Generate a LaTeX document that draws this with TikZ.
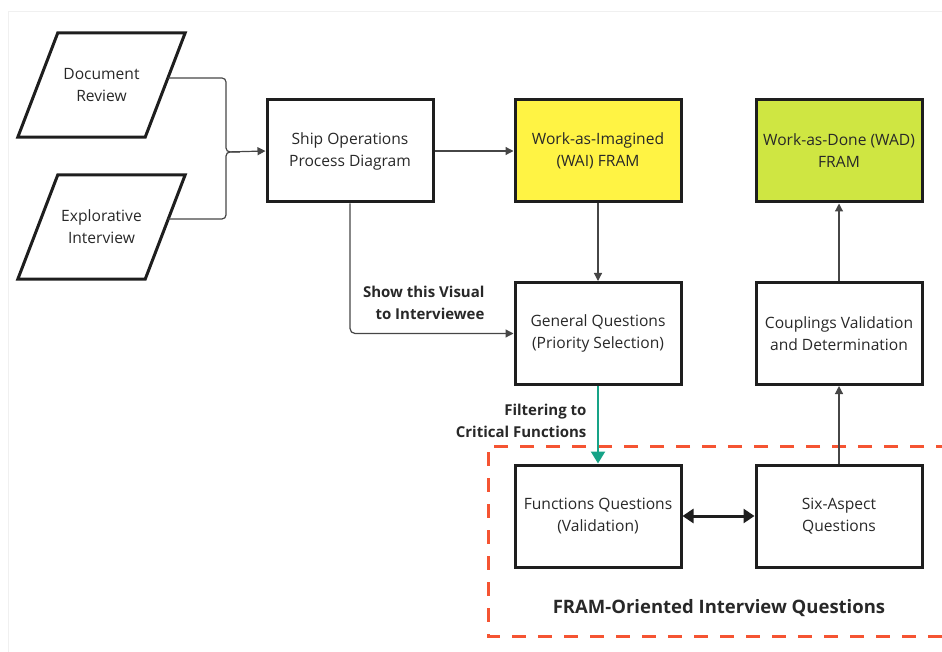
\documentclass[tikz,border=0pt]{standalone}
\usepackage{fontspec}
\setmainfont{Open Sans}
\usetikzlibrary{arrows.meta}
\definecolor{inkline}{RGB}{30,30,30}
\definecolor{inktext}{RGB}{40,40,40}
\definecolor{connline}{RGB}{70,70,70}
\definecolor{waiyellow}{RGB}{255,243,68}
\definecolor{wadlime}{RGB}{207,230,66}
\definecolor{filterteal}{RGB}{22,163,135}
\definecolor{framred}{RGB}{245,84,50}
\definecolor{framefaint}{RGB}{240,240,240}
\begin{document}
\begin{tikzpicture}[x=1pt,y=-1pt,
  every node/.style={text=inktext},
  procbox/.style={draw=inkline, line width=3pt, minimum width=166pt,
    minimum height=102pt, align=center, inner sep=0pt,
    font=\fontsize{15.6}{22}\selectfont},
  inbox/.style={minimum width=167pt, minimum height=104pt, align=center,
    inner sep=0pt, font=\fontsize{15.6}{22}\selectfont},
  pgram/.style={draw=inkline, line width=3pt, line join=miter},
  conn/.style={draw=connline, line width=1.2pt,
    -{Triangle[length=8pt,width=8pt]}},
  plainconn/.style={draw=connline, line width=1.2pt},
  lbl/.style={font=\bfseries\fontsize{15}{21.5}\selectfont, align=right},
]
\useasboundingbox (0,0) rectangle (942,652);
% faint page frame
\draw[framefaint, line width=1pt] (8,652) -- (8,12) -- (942,12);

% input sources (parallelograms)
\node[inbox] (doc) at (101.5,85) {Document\\Review};
\node[inbox] (expl) at (101.5,227) {Explorative\\Interview};
\draw[pgram] ([xshift=40pt]doc.north west) -- (doc.north east)
  -- ([xshift=-40pt]doc.south east) -- (doc.south west) -- cycle;
\draw[pgram] ([xshift=40pt]expl.north west) -- (expl.north east)
  -- ([xshift=-40pt]expl.south east) -- (expl.south west) -- cycle;

% process boxes
\node[procbox] (ship) at (350,151) {Ship Operations\\Process Diagram};
\node[procbox, fill=waiyellow] (wai) at (598,151) {Work-as-Imagined\\(WAI) FRAM};
\node[procbox, fill=wadlime] (wad) at (839,151) {Work-as-Done (WAD)\\FRAM};
\node[procbox] (gen) at (598,333.5) {General Questions\\(Priority Selection)};
\node[procbox] (coup) at (839,333.5) {Couplings Validation\\and Determination};
\node[procbox] (func) at (598,516) {Functions Questions\\(Validation)};
\node[procbox] (six) at (839,516) {Six-Aspect\\Questions};

% FRAM-oriented questions group
\draw[framred, line width=3pt, dash pattern=on 14pt off 12pt]
  (950,446) -- (488,446) -- (488,636) -- (950,636);
\node[font=\bfseries\fontsize{18.5}{22}\selectfont] (grp) at (719,608.5)
  {FRAM-Oriented Interview Questions};

% merging inputs into the process diagram
\coordinate (docout) at (168,78);
\coordinate (explout) at (168,219);
\coordinate (merge) at (226,152);
\coordinate (mergeend) at (240,152);
\draw[conn, rounded corners=4pt] (docout) -| (merge) -- (ship.west);
\draw[plainconn, rounded corners=4pt] (explout) -| (merge) -- (mergeend);

% main flow
\draw[conn] (ship.east) -- (wai.west);
\draw[conn] (wai.south) -- (gen.north);
\draw[conn, rounded corners=5pt] (ship.south) |- (gen.west);
\node[lbl, anchor=east] (showlbl) at (488,303) {Show this Visual\\to Interviewee};

\draw[draw=filterteal, line width=2.2pt,
  -{Triangle[length=12pt,width=14pt]}] (gen.south) -- (func.north);
\node[lbl, anchor=east] (filtlbl) at (590,421) {Filtering to\\Critical Functions};

\draw[draw=inkline, line width=3pt,
  {Triangle[length=11pt,width=14pt]}-{Triangle[length=11pt,width=14pt]}]
  (func.east) -- (six.west);
\draw[conn] (six.north) -- (coup.south);
\draw[conn] (coup.north) -- (wad.south);
\end{tikzpicture}
\end{document}
